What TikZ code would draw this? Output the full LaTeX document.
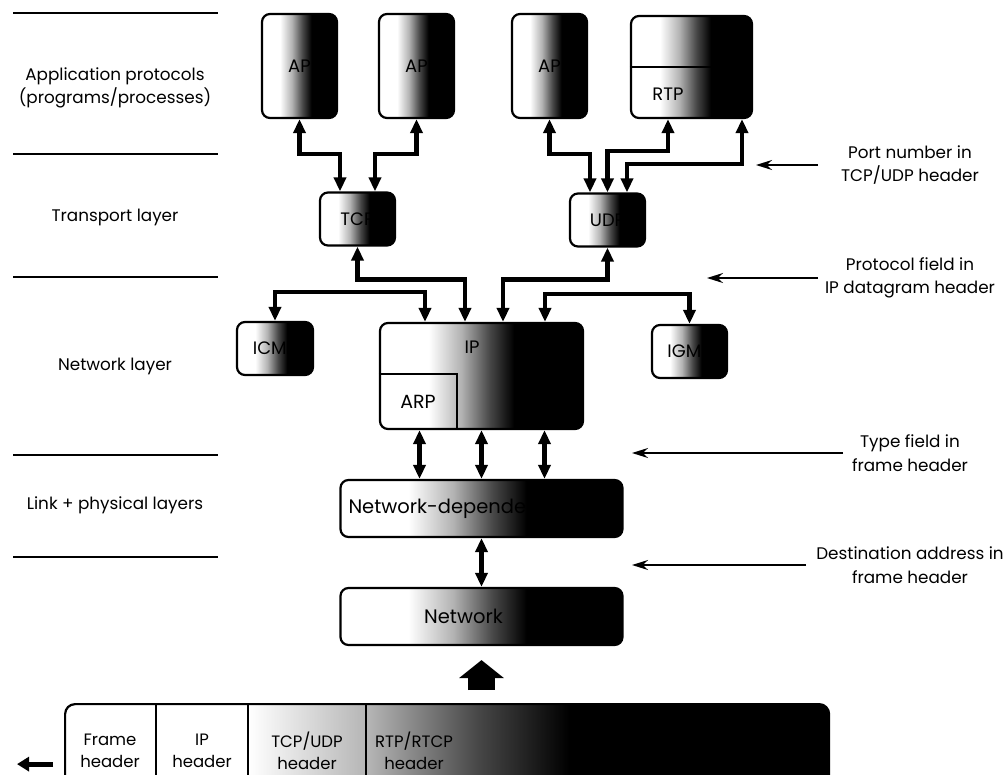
\documentclass[tikz,border=0pt]{standalone}
\usepackage{fontspec}
\setmainfont{Poppins}
\usetikzlibrary{positioning, arrows.meta}
\pgfdeclarehorizontalshading{boxfade}{100bp}{color(0bp)=(white); color(37bp)=(white); color(45bp)=(black!30); color(52bp)=(black!72); color(58bp)=(black); color(100bp)=(black)}

\begin{document}
\begin{tikzpicture}
    [
        x=1pt, y=-1pt, node distance=117pt, on grid,
        proto_node/.style={rectangle, rounded corners=8pt, draw=black, line width=2.2pt, shading=boxfade, inner sep=0pt, font=\fontsize{18}{20}\selectfont},
        box_text/.style={inner sep=0pt, font=\fontsize{18}{20}\selectfont},
        side_text/.style={align=center, inner sep=0pt, font=\fontsize{16.8}{23.5}\selectfont},
        cell_text/.style={align=center, inner sep=0pt, font=\fontsize{16.5}{21.5}\selectfont},
        link_arrow/.style={{Triangle[length=14pt,width=12pt]}-{Triangle[length=14pt,width=12pt]}, line width=4.5pt},
        note_arrow/.style={-{Stealth[length=16pt,width=10pt]}, line width=1.6pt},
        out_arrow/.style={-{Triangle[length=12pt,width=14pt]}, line width=5pt},
        up_arrow/.style={-{Triangle[length=18pt,width=44pt]}, line width=27pt},
        layer_line/.style={line width=1.5pt},
    ]
        \clip (0,0) rectangle (1006,774) ;
        \fill[white] (0,0) rectangle (1006,774) ;

        % layer labels on the left
        \foreach \ly in {13,154,277,455,557}
            \draw[layer_line] (13,\ly) -- (218,\ly) ;
        \node[side_text] (applayer) at (115,88) {Application protocols\\(programs/processes)} ;
        \node[side_text] (translayer) at (115,217) {Transport layer} ;
        \node[side_text] (netlayer) at (115,366) {Network layer} ;
        \node[side_text] (linklayer) at (115,505) {Link + physical layers} ;

        % application protocols
        \node[proto_node, minimum width=75pt, minimum height=104pt] (ap1) at (299.5,66) {AP} ;
        \node[proto_node, minimum width=75pt, minimum height=104pt] (ap2) [right = of ap1] {AP} ;
        \node[proto_node, minimum width=75pt, minimum height=104pt] (ap3) [right = 133pt of ap2] {AP} ;
        \node[proto_node, minimum width=121pt, minimum height=102pt] (rtpbox) at (691.5,67) {} ;
        \draw[line width=2.2pt] (rtpbox.west) -- (rtpbox.east) ;
        \node[box_text] (rtp) at (668,94) {RTP} ;

        % transport layer
        \node[proto_node, minimum width=75pt, minimum height=53pt] (tcp) at (357.5,219) {TCP} ;
        \node[proto_node, minimum width=75pt, minimum height=53pt] (udp) at (607.5,220) {UDP} ;

        % network layer
        \node[proto_node, minimum width=76pt, minimum height=53pt] (icmp) at (275,348.5) {ICMP} ;
        \node[proto_node, minimum width=75pt, minimum height=53pt] (igmp) at (689.5,351.5) {IGMP} ;
        \node[proto_node, minimum width=203pt, minimum height=106pt] (ip) at (481.5,376) {} ;
        \draw[line width=2.2pt] (ip.west |- 0,374) -- (457,374) -- (457,0 |- ip.south) ;
        \node[box_text] (iplbl) at (472,347) {IP} ;
        \node[box_text, font=\fontsize{19}{20}\selectfont] (arp) at (418,402) {ARP} ;

        % link + physical layers
        \node[proto_node, font=\fontsize{19.5}{22}\selectfont, minimum width=282pt, minimum height=57pt, text width=266pt, align=left] (netdep) at (481.5,508.5) {Network-dependent} ;
        \node[proto_node, font=\fontsize{19.5}{22}\selectfont, minimum width=282pt, minimum height=57pt] (net) at (481.5,616.5) {\hspace*{-36pt}Network} ;

        % frame
        \node[proto_node, rounded corners=10pt, minimum width=764pt, minimum height=92pt, anchor=north west] (frame) at (64,703) {} ;
        \foreach \cx in {92,184,302}
            \draw[line width=1.8pt] ([xshift=\cx pt]frame.north west) -- ([xshift=\cx pt]frame.south west) ;
        \node[cell_text] (framehdr) at (110,751) {Frame\\header} ;
        \node[cell_text] (iphdr) at (202,751) {IP\\header} ;
        \node[cell_text] (tcphdr) at (307,751) {TCP/UDP\\header} ;
        \node[cell_text, anchor=west] (rtphdr) at (375,751) {RTP/RTCP\\header} ;

        % connectors between the layers
        \draw[link_arrow] (ap1.south) -- ++(0,35) -| ([xshift=-17.5pt]tcp.north) ;
        \draw[link_arrow] (ap2.south) -- ++(0,35) -| ([xshift=17.5pt]tcp.north) ;
        \draw[link_arrow] (ap3.south) -- ++(0,35) -| ([xshift=-17.5pt]udp.north) ;
        \draw[link_arrow] (rtp.south |- rtpbox.south) -- ++(0,32) -| (udp.north) ;
        \draw[link_arrow] ([xshift=50.5pt]rtpbox.south) -- ++(0,45) -| ([xshift=19.5pt]udp.north) ;
        \draw[link_arrow] (tcp.south) -- ++(0,33) -| ([xshift=-16.5pt]ip.north) ;
        \draw[link_arrow] (udp.south) -- ++(0,32) -| ([xshift=21.5pt]ip.north) ;
        \draw[link_arrow] (icmp.north) -- ++(0,-29) -| ([xshift=-56.5pt]ip.north) ;
        \draw[link_arrow] (igmp.north) -- ++(0,-30) -| ([xshift=63.5pt]ip.north) ;
        \foreach \dx in {-62,0,63}
            \draw[link_arrow] ([xshift=\dx pt]ip.south) -- ([xshift=\dx pt]netdep.north) ;
        \draw[link_arrow] (netdep.south) -- (net.north) ;
        \draw[up_arrow] ([yshift=13pt]frame.north -| net.south) -- ([yshift=-14pt]net.south) ;
        \draw[out_arrow] ([xshift=-11pt,yshift=-14pt]frame.west) -- ++(-36,0) ;

        % notes on the right
        \node[side_text] (portnote) at (910,165) {Port number in\\TCP/UDP header} ;
        \node[side_text] (protonote) at (910,278) {Protocol field in\\IP datagram header} ;
        \node[side_text] (typenote) at (910,453) {Type field in\\frame header} ;
        \node[side_text] (destnote) at (910,565) {Destination address in\\frame header} ;
        \draw[note_arrow] (portnote.west -| 818,0) -- ++(-62,0) ;
        \draw[note_arrow] (protonote.west -| 818,0) -- ++(-111,0) ;
        \draw[note_arrow] (typenote.west -| 843,0) -- ++(-211,0) ;
        \draw[note_arrow] (destnote.west -| 806,0) -- ++(-174,0) ;
    \end{tikzpicture}
\end{document}
